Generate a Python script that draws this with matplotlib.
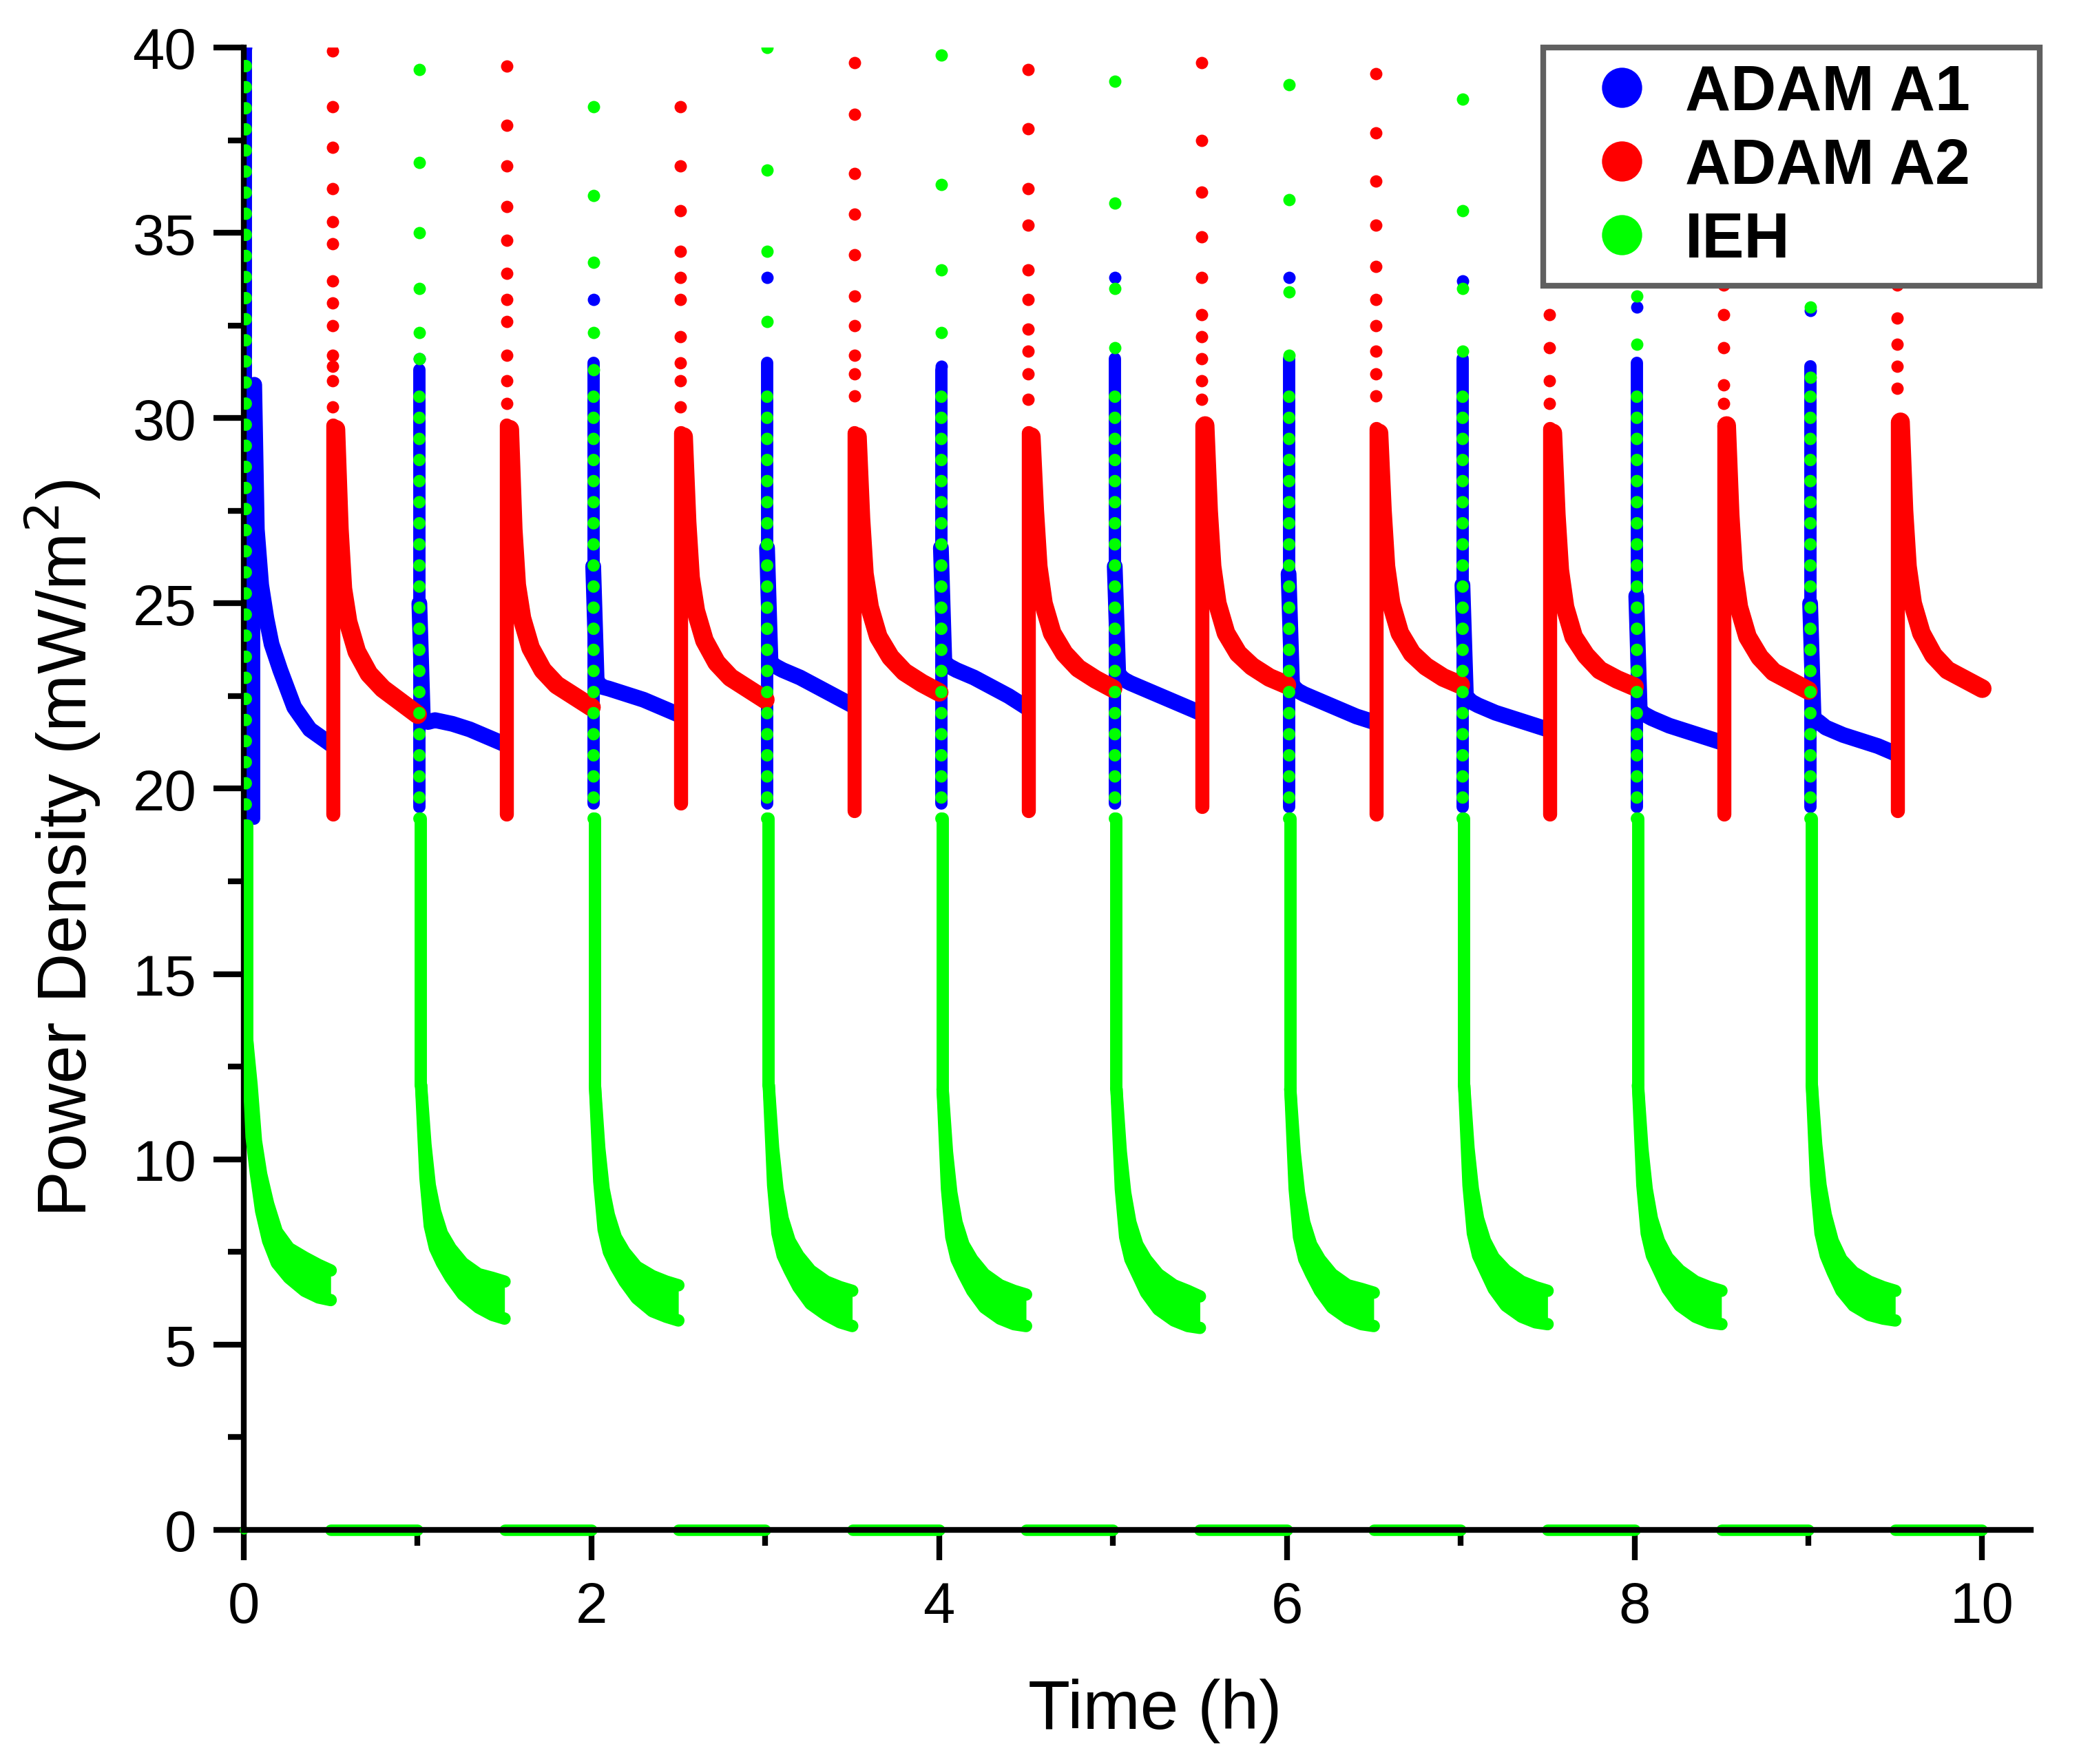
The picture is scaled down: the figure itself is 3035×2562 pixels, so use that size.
import numpy as np
import matplotlib.pyplot as plt
from matplotlib.lines import Line2D
from matplotlib.ticker import MultipleLocator

plt.rcParams['font.family'] = ['Liberation Sans', 'DejaVu Sans']

BLUE = '#0000FF'
RED = '#FF0000'
GREEN = '#00FF00'

# switching times (h): A1 / IEH phases start on the hour, A2 phases on the half hour
hours_on = [0, 1, 2, 3, 4, 5, 6, 7, 8, 9]
hours_a2 = [0.5, 1.5, 2.5, 3.5, 4.5, 5.5, 6.5, 7.5, 8.5, 9.5]

# ---------------- ADAM A1 (blue) ----------------
a1_peak = [40.0, 31.6, 33.2, 33.8, 31.4, 33.8, 33.8, 33.7, 33.0, 32.9]
a1_dense_top = [40.0, 31.3, 31.5, 31.5, 31.3, 31.6, 31.6, 31.6, 31.5, 31.4]
a1_floor = [19.2, 19.5, 19.6, 19.6, 19.6, 19.6, 19.5, 19.5, 19.5, 19.5]
# first phase has its own shape
a1_first_dt = [0.06, 0.075, 0.10, 0.13, 0.16, 0.21, 0.29, 0.38, 0.50]
a1_first_y = [30.9, 27.0, 25.5, 24.6, 23.9, 23.2, 22.2, 21.6, 21.2]
# later phases (1..9)
a1_dt = [0.01, 0.03, 0.06, 0.10, 0.20, 0.30, 0.40, 0.50]
a1_decay = [
    [25.0, 21.9, 21.8, 21.85, 21.75, 21.6, 21.4, 21.2],
    [26.0, 22.9, 22.75, 22.7, 22.55, 22.4, 22.2, 22.0],
    [26.5, 23.4, 23.3, 23.2, 23.0, 22.75, 22.5, 22.25],
    [26.5, 23.4, 23.3, 23.2, 23.0, 22.75, 22.5, 22.2],
    [26.0, 23.1, 22.95, 22.85, 22.65, 22.45, 22.25, 22.05],
    [25.8, 22.8, 22.65, 22.55, 22.35, 22.15, 21.95, 21.8],
    [25.5, 22.5, 22.35, 22.25, 22.05, 21.9, 21.75, 21.6],
    [25.2, 22.1, 22.0, 21.9, 21.7, 21.55, 21.4, 21.25],
    [25.0, 21.9, 21.8, 21.65, 21.45, 21.3, 21.15, 20.95],
]

# ---------------- ADAM A2 (red) ----------------
a2_sparse = [
    [39.9, 38.4, 37.3, 36.2, 35.3, 34.7, 33.7, 33.1, 32.5, 31.7, 31.4, 31.0, 30.3],
    [39.5, 37.9, 36.8, 35.7, 34.8, 33.9, 33.2, 32.6, 31.7, 31.0, 30.4],
    [38.4, 36.8, 35.6, 34.5, 33.8, 33.2, 32.2, 31.5, 31.0, 30.3],
    [39.6, 38.2, 36.6, 35.5, 34.4, 33.3, 32.5, 31.7, 31.2, 30.6],
    [39.4, 37.8, 36.2, 35.2, 34.0, 33.2, 32.4, 31.8, 31.2, 30.5],
    [39.6, 37.5, 36.1, 34.9, 33.8, 32.8, 32.2, 31.6, 31.0, 30.5],
    [39.3, 37.7, 36.4, 35.2, 34.1, 33.2, 32.5, 31.8, 31.2, 30.6],
    [39.0, 37.5, 36.2, 35.0, 33.9, 32.8, 31.9, 31.0, 30.4],
    [39.2, 37.6, 36.3, 35.1, 33.6, 32.8, 31.9, 30.9, 30.4],
    [39.3, 37.7, 36.4, 35.0, 33.6, 32.7, 32.0, 31.4, 30.8],
]
a2_dense_top = [29.8, 29.8, 29.6, 29.6, 29.6, 29.8, 29.7, 29.7, 29.8, 29.9]
a2_floor = [19.3, 19.3, 19.6, 19.4, 19.4, 19.5, 19.3, 19.3, 19.3, 19.4]
a2_dt = [0.03, 0.05, 0.07, 0.10, 0.15, 0.22, 0.30, 0.40, 0.50]
a2_decay = [
    [29.7, 27.0, 25.4, 24.5, 23.7, 23.1, 22.7, 22.35, 22.0],
    [29.7, 27.0, 25.5, 24.6, 23.8, 23.2, 22.8, 22.5, 22.2],
    [29.5, 27.2, 25.7, 24.8, 24.0, 23.4, 23.0, 22.7, 22.4],
    [29.5, 27.3, 25.8, 24.9, 24.1, 23.55, 23.15, 22.85, 22.6],
    [29.5, 27.5, 26.0, 25.0, 24.2, 23.65, 23.25, 22.95, 22.7],
    [29.8, 27.5, 26.0, 25.0, 24.2, 23.65, 23.3, 23.0, 22.8],
    [29.6, 27.5, 26.0, 25.0, 24.2, 23.65, 23.3, 23.0, 22.8],
    [29.6, 27.4, 25.9, 24.9, 24.1, 23.6, 23.2, 22.95, 22.75],
    [29.8, 27.4, 25.9, 24.9, 24.1, 23.55, 23.15, 22.9, 22.65],
    [29.9, 27.5, 26.0, 25.0, 24.2, 23.6, 23.2, 22.95, 22.7],
]

# ---------------- IEH (green) ----------------
ieh_sparse = [
    [],
    [39.4, 36.9, 35.0, 33.5, 32.3, 31.6],
    [38.4, 36.0, 34.2, 32.3, 31.3],
    [40.0, 36.7, 34.5, 32.6],
    [39.8, 36.3, 34.0, 32.3],
    [39.1, 35.8, 33.5, 31.9],
    [39.0, 35.9, 33.4, 31.7],
    [38.6, 35.6, 33.5, 31.8],
    [38.5, 35.5, 33.3, 32.0],
    [38.5, 35.5, 33.0, 31.1],
]
ieh_dotted_top = [40.0, 31.0, 30.8, 31.0, 31.0, 31.0, 31.0, 31.0, 31.0, 30.8]
ieh_solid_top = [19.0, 19.2, 19.2, 19.2, 19.2, 19.2, 19.2, 19.2, 19.2, 19.2]
ieh_dt = [0.02, 0.045, 0.07, 0.10, 0.14, 0.19, 0.26, 0.35, 0.43, 0.50]
ieh_hi = [
    [13.2, 12.0, 10.5, 9.6, 8.8, 8.05, 7.6, 7.35, 7.15, 7.0],
    [12.0, 10.4, 9.3, 8.6, 8.0, 7.6, 7.2, 6.9, 6.8, 6.7],
    [12.0, 10.3, 9.2, 8.5, 7.9, 7.5, 7.1, 6.85, 6.7, 6.6],
    [12.0, 10.3, 9.2, 8.4, 7.8, 7.4, 7.0, 6.7, 6.55, 6.45],
    [11.9, 10.2, 9.1, 8.3, 7.7, 7.3, 6.9, 6.6, 6.45, 6.35],
    [11.9, 10.2, 9.1, 8.3, 7.7, 7.3, 6.9, 6.6, 6.45, 6.3],
    [11.9, 10.2, 9.1, 8.3, 7.7, 7.3, 6.9, 6.6, 6.5, 6.4],
    [12.0, 10.3, 9.2, 8.4, 7.8, 7.35, 7.0, 6.7, 6.55, 6.45],
    [12.0, 10.3, 9.2, 8.4, 7.8, 7.35, 7.0, 6.7, 6.55, 6.45],
    [12.0, 10.4, 9.3, 8.5, 7.8, 7.3, 6.95, 6.7, 6.55, 6.45],
]
ieh_lo = [
    [13.2, 10.6, 9.6, 8.6, 7.8, 7.2, 6.8, 6.45, 6.27, 6.2],
    [12.0, 9.5, 8.2, 7.6, 7.2, 6.8, 6.35, 6.0, 5.8, 5.7],
    [12.0, 9.4, 8.1, 7.5, 7.1, 6.7, 6.25, 5.9, 5.75, 5.65],
    [12.0, 9.3, 8.0, 7.4, 7.0, 6.55, 6.1, 5.8, 5.6, 5.5],
    [11.9, 9.2, 7.9, 7.3, 6.9, 6.45, 6.0, 5.7, 5.55, 5.5],
    [11.9, 9.2, 7.9, 7.3, 6.9, 6.4, 5.95, 5.65, 5.5, 5.45],
    [11.9, 9.2, 7.9, 7.3, 6.9, 6.45, 6.0, 5.7, 5.55, 5.5],
    [12.0, 9.3, 8.0, 7.4, 7.0, 6.5, 6.05, 5.75, 5.6, 5.55],
    [12.0, 9.3, 8.0, 7.4, 7.0, 6.5, 6.05, 5.75, 5.6, 5.55],
    [12.0, 9.3, 8.0, 7.4, 6.95, 6.45, 6.05, 5.8, 5.7, 5.65],
]
ieh_off_start = [0.5, 1.5, 2.5, 3.5, 4.5, 5.5, 6.5, 7.5, 8.5, 9.5]
ieh_off_end = [1.0, 2.0, 3.0, 4.0, 5.0, 6.0, 7.0, 8.0, 9.0, 10.0]
ieh_off_value = 0.0

DOT = 4.3      # marker size (pt)
fig = plt.figure(figsize=(10.12, 8.543), dpi=300)
ax = fig.add_axes([0.1166, 0.1327, 0.8548, 0.84])

# ---- A1
for k, t0 in enumerate(hours_on):
    ax.plot([t0 + 0.012] * 2, [a1_floor[k], a1_dense_top[k]], color=BLUE, lw=DOT,
            solid_capstyle='round', zorder=2)
    ax.plot([t0 + 0.012], [a1_peak[k]], 'o', color=BLUE, ms=DOT, mec='none', zorder=2)
    if k == 0:
        t = t0 + np.array(a1_first_dt)
        ax.plot([t[0]] * 2, [a1_floor[k], a1_first_y[0]], color=BLUE, lw=DOT,
                solid_capstyle='round', zorder=2)
        ax.plot(t, a1_first_y, color=BLUE, lw=5.5, solid_capstyle='round', zorder=2)
    else:
        t = t0 + np.array(a1_dt)
        ax.plot(t, a1_decay[k - 1], color=BLUE, lw=5.5, solid_capstyle='round', zorder=2)

# ---- A2
for k, t0 in enumerate(hours_a2):
    ax.plot([t0 + 0.012] * len(a2_sparse[k]), a2_sparse[k], 'o', color=RED, ms=DOT,
            mec='none', zorder=3)
    ax.plot([t0 + 0.015] * 2, [a2_floor[k], a2_dense_top[k]], color=RED, lw=DOT + 0.6,
            solid_capstyle='round', zorder=3)
    t = t0 + np.array(a2_dt)
    ax.plot(t, a2_decay[k], color=RED, lw=6.5, solid_capstyle='round', zorder=3)

# ---- IEH
for k, t0 in enumerate(hours_on):
    if ieh_sparse[k]:
        ax.plot([t0 + 0.012] * len(ieh_sparse[k]), ieh_sparse[k], 'o', color=GREEN,
                ms=DOT, mec='none', zorder=4)
    ax.plot([t0 + 0.012] * 2, [ieh_solid_top[k], ieh_dotted_top[k]], color=GREEN, lw=DOT,
            linestyle=(0, (0.01, 1.7)), dash_capstyle='round', zorder=4)
    t = t0 + np.array(ieh_dt)
    ax.plot([t[0]] * 2, [ieh_hi[k][0], ieh_solid_top[k]], color=GREEN, lw=DOT,
            solid_capstyle='round', zorder=4)
    ax.fill_between(t, ieh_lo[k], ieh_hi[k], color=GREEN, lw=0, zorder=4)
    ax.plot(t, ieh_hi[k], color=GREEN, lw=DOT, solid_capstyle='round', zorder=4)
    ax.plot(t, ieh_lo[k], color=GREEN, lw=DOT, solid_capstyle='round', zorder=4)
    ax.plot([ieh_off_start[k], ieh_off_end[k]], [ieh_off_value] * 2, color=GREEN, lw=4,
            solid_capstyle='round', clip_on=False, zorder=2.4)
ax.plot([0.0], [0.0], 'o', color=GREEN, ms=3, mec='none', clip_on=False, zorder=2.4)

# ---- axes
ax.set_xlim(0, 10.28)
ax.set_ylim(0, 40)
for side in ['top', 'right']:
    ax.spines[side].set_visible(False)
for side in ['left', 'bottom']:
    ax.spines[side].set_linewidth(2)
ax.xaxis.set_major_locator(MultipleLocator(2))
ax.xaxis.set_minor_locator(MultipleLocator(1))
ax.yaxis.set_major_locator(MultipleLocator(5))
ax.yaxis.set_minor_locator(MultipleLocator(2.5))
ax.tick_params(which='major', direction='out', length=10.5, width=2, labelsize=20, pad=6)
ax.tick_params(which='minor', direction='out', length=5.5, width=2)
ax.tick_params(axis='x', which='major', pad=7)

ax.set_xlabel('Time (h)', fontsize=24)
ax.set_ylabel('Power Density (mW/m$^2$)', fontsize=24)
ax.xaxis.set_label_coords(0.51, -0.1)
ax.yaxis.set_label_coords(-0.079, 0.46)

# legend
handles = [Line2D([], [], ls='none', marker='o', ms=14, color=c, mec='none')
           for c in [BLUE, RED, GREEN]]
leg = ax.legend(handles, ['ADAM A1', 'ADAM A2', 'IEH'], loc='upper left',
                bbox_to_anchor=(0.727, 0.0, 0.278, 1.0), mode='expand', borderaxespad=0,
                frameon=True, fancybox=False, edgecolor='#606060', framealpha=1,
                prop={'weight': 'bold', 'size': 22}, handlelength=2.0, handletextpad=0.0,
                borderpad=0.25, labelspacing=0.23)
leg.get_frame().set_linewidth(2)
leg.set_zorder(10)

fig.savefig('out.png', dpi=300)
